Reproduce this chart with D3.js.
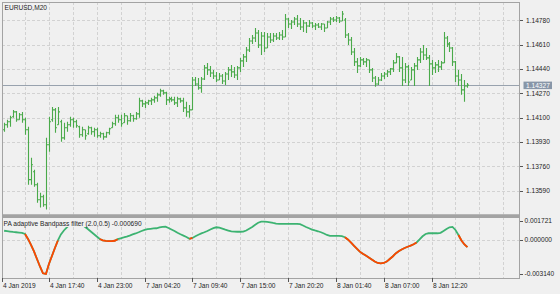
<!DOCTYPE html>
<html>
<head>
<meta charset="utf-8">
<script src="https://cdn.jsdelivr.net/npm/d3@7"></script>
<style>
  body { margin: 0; background: #f0f0f0; }
  svg { display: block; }
  text { font-family: "Liberation Sans", Arial, sans-serif; font-size: 6.6px; fill: #1e1e1e; }
</style>
</head>
<body>
<div id="chart"></div>
<script>
// EURUSD M20 bars, oldest first
const opens = [
  1.14015,1.14050,1.14071,1.14106,1.14140,1.14085,1.14120,1.14085,1.14015,1.13667,
  1.13722,1.13632,1.13527,1.13548,1.13492,1.13911,1.14085,1.14154,1.14050,1.14071,
  1.13959,1.14029,1.14050,1.14085,1.14071,1.14036,1.13980,1.14015,1.13987,1.14029,
  1.14001,1.14015,1.13973,1.13987,1.13966,1.13994,1.14029,1.14057,1.14099,1.14085,
  1.14064,1.14113,1.14078,1.14113,1.14092,1.14126,1.14217,1.14196,1.14203,1.14217,
  1.14224,1.14238,1.14259,1.14287,1.14273,1.14224,1.14231,1.14224,1.14203,1.14231,
  1.14217,1.14168,1.14140,1.14154,1.14363,1.14335,1.14308,1.14370,1.14447,1.14433,
  1.14412,1.14391,1.14363,1.14391,1.14356,1.14405,1.14433,1.14419,1.14398,1.14447,
  1.14496,1.14524,1.14572,1.14635,1.14656,1.14691,1.14607,1.14670,1.14586,1.14663,
  1.14642,1.14670,1.14656,1.14677,1.14663,1.14788,1.14753,1.14767,1.14788,1.14753,
  1.14733,1.14760,1.14740,1.14760,1.14740,1.14747,1.14733,1.14753,1.14726,1.14767,
  1.14788,1.14781,1.14795,1.14774,1.14781,1.14677,1.14642,1.14558,1.14489,1.14461,
  1.14503,1.14489,1.14503,1.14433,1.14377,1.14335,1.14363,1.14391,1.14405,1.14419,
  1.14440,1.14482,1.14524,1.14447,1.14363,1.14454,1.14363,1.14433,1.14461,1.14503,
  1.14558,1.14537,1.14517,1.14475,1.14447,1.14468,1.14454,1.14482,1.14656,1.14614,
  1.14586,1.14489,1.14391,1.14363,1.14294,1.14321
];
const highs = [
  1.14064,1.14085,1.14113,1.14154,1.14147,1.14133,1.14140,1.14099,1.14036,1.13820,
  1.13736,1.13646,1.13576,1.13562,1.13959,1.14106,1.14175,1.14168,1.14175,1.14085,
  1.14064,1.14071,1.14106,1.14099,1.14085,1.14043,1.14036,1.14015,1.14043,1.14036,
  1.14029,1.14029,1.14001,1.13994,1.14001,1.14029,1.14071,1.14120,1.14120,1.14120,
  1.14133,1.14113,1.14133,1.14120,1.14140,1.14238,1.14224,1.14217,1.14224,1.14238,
  1.14252,1.14273,1.14301,1.14294,1.14280,1.14245,1.14245,1.14245,1.14245,1.14238,
  1.14238,1.14210,1.14189,1.14384,1.14384,1.14377,1.14384,1.14468,1.14482,1.14461,
  1.14433,1.14419,1.14412,1.14405,1.14419,1.14454,1.14468,1.14454,1.14461,1.14517,
  1.14544,1.14593,1.14656,1.14677,1.14726,1.14712,1.14698,1.14698,1.14691,1.14691,
  1.14691,1.14691,1.14698,1.14712,1.14823,1.14795,1.14781,1.14802,1.14816,1.14795,
  1.14781,1.14767,1.14781,1.14767,1.14760,1.14760,1.14760,1.14753,1.14774,1.14802,
  1.14802,1.14809,1.14802,1.14844,1.14795,1.14691,1.14663,1.14586,1.14517,1.14524,
  1.14517,1.14517,1.14503,1.14447,1.14391,1.14384,1.14412,1.14419,1.14433,1.14447,
  1.14503,1.14551,1.14531,1.14524,1.14482,1.14468,1.14454,1.14482,1.14524,1.14586,
  1.14607,1.14586,1.14537,1.14503,1.14489,1.14503,1.14496,1.14698,1.14670,1.14628,
  1.14593,1.14496,1.14433,1.14405,1.14363,1.14342
];
const lows = [
  1.14001,1.14029,1.14036,1.14099,1.14071,1.14085,1.14064,1.13980,1.13632,1.13632,
  1.13618,1.13506,1.13472,1.13478,1.13458,1.13862,1.14071,1.13994,1.14050,1.13931,
  1.13945,1.14001,1.14036,1.14029,1.14029,1.13959,1.13966,1.13945,1.13980,1.13980,
  1.13966,1.13959,1.13959,1.13945,1.13959,1.13980,1.14029,1.14043,1.14064,1.14036,
  1.14064,1.14050,1.14071,1.14071,1.14085,1.14099,1.14175,1.14168,1.14189,1.14189,
  1.14203,1.14210,1.14245,1.14259,1.14189,1.14203,1.14210,1.14189,1.14175,1.14203,
  1.14140,1.14106,1.14099,1.14154,1.14321,1.14294,1.14273,1.14363,1.14398,1.14384,
  1.14370,1.14349,1.14363,1.14335,1.14328,1.14363,1.14384,1.14377,1.14363,1.14419,
  1.14454,1.14489,1.14558,1.14614,1.14628,1.14586,1.14537,1.14558,1.14586,1.14621,
  1.14628,1.14642,1.14642,1.14642,1.14663,1.14726,1.14719,1.14747,1.14733,1.14712,
  1.14698,1.14691,1.14733,1.14726,1.14712,1.14726,1.14712,1.14698,1.14726,1.14747,
  1.14767,1.14767,1.14760,1.14774,1.14656,1.14607,1.14537,1.14461,1.14412,1.14454,
  1.14468,1.14454,1.14412,1.14349,1.14315,1.14328,1.14356,1.14370,1.14384,1.14398,
  1.14419,1.14482,1.14419,1.14321,1.14342,1.14321,1.14363,1.14321,1.14433,1.14482,
  1.14503,1.14503,1.14321,1.14398,1.14412,1.14419,1.14433,1.14482,1.14593,1.14558,
  1.14461,1.14349,1.14321,1.14259,1.14210,1.14308
];
const closes = [
  1.14050,1.14071,1.14099,1.14140,1.14085,1.14120,1.14085,1.14015,1.13667,1.13771,
  1.13632,1.13527,1.13548,1.13492,1.13911,1.14071,1.14154,1.14029,1.14140,1.13959,
  1.14029,1.14050,1.14085,1.14071,1.14043,1.13980,1.14015,1.13973,1.14029,1.14001,
  1.14015,1.13973,1.13987,1.13966,1.13994,1.14022,1.14057,1.14099,1.14085,1.14057,
  1.14113,1.14078,1.14113,1.14092,1.14126,1.14217,1.14196,1.14203,1.14217,1.14224,
  1.14238,1.14259,1.14287,1.14273,1.14224,1.14231,1.14224,1.14203,1.14231,1.14217,
  1.14168,1.14140,1.14154,1.14363,1.14335,1.14308,1.14370,1.14447,1.14433,1.14412,
  1.14391,1.14363,1.14391,1.14356,1.14405,1.14433,1.14419,1.14398,1.14447,1.14496,
  1.14524,1.14572,1.14635,1.14656,1.14691,1.14607,1.14670,1.14586,1.14663,1.14642,
  1.14670,1.14656,1.14677,1.14663,1.14788,1.14753,1.14767,1.14788,1.14753,1.14733,
  1.14760,1.14740,1.14760,1.14740,1.14747,1.14733,1.14753,1.14726,1.14767,1.14788,
  1.14781,1.14795,1.14774,1.14823,1.14677,1.14642,1.14558,1.14489,1.14461,1.14503,
  1.14489,1.14503,1.14433,1.14377,1.14335,1.14363,1.14391,1.14405,1.14419,1.14440,
  1.14482,1.14524,1.14447,1.14363,1.14454,1.14349,1.14433,1.14461,1.14503,1.14558,
  1.14537,1.14517,1.14475,1.14447,1.14468,1.14454,1.14482,1.14656,1.14614,1.14586,
  1.14489,1.14391,1.14363,1.14294,1.14321,1.14327
];

// PA adaptive Bandpass filter (2.0,0.5), one value per bar
const filterValues = [
  0.000803,0.000766,0.000730,0.000693,0.000666,0.000638,0.000602,0.000511,0.000055,-0.000492,
  -0.001085,-0.001769,-0.002453,-0.003080,-0.003140,-0.002225,-0.001496,-0.000766,-0.000082,0.000465,
  0.000830,0.001104,0.001377,0.001605,0.001721,0.001651,0.001423,0.001167,0.000967,0.000739,
  0.000511,0.000283,0.000055,-0.000064,-0.000119,-0.000137,-0.000137,-0.000109,0.000036,0.000119,
  0.000192,0.000274,0.000365,0.000465,0.000556,0.000666,0.000784,0.000876,0.000948,0.000985,
  0.001012,0.001031,0.001104,0.001158,0.001176,0.001058,0.000921,0.000784,0.000620,0.000483,
  0.000365,0.000237,0.000073,0.000146,0.000301,0.000438,0.000565,0.000666,0.000784,0.000921,
  0.001040,0.001122,0.001094,0.001003,0.000903,0.000821,0.000739,0.000720,0.000711,0.000711,
  0.000720,0.000830,0.000994,0.001149,0.001350,0.001532,0.001632,0.001632,0.001614,0.001578,
  0.001514,0.001459,0.001423,0.001423,0.001423,0.001423,0.001423,0.001423,0.001423,0.001404,
  0.001286,0.001149,0.001031,0.000912,0.000830,0.000757,0.000666,0.000556,0.000420,0.000337,
  0.000328,0.000328,0.000328,0.000310,0.000210,0.000009,-0.000264,-0.000556,-0.000830,-0.001104,
  -0.001295,-0.001459,-0.001632,-0.001815,-0.002006,-0.002134,-0.002171,-0.002134,-0.002006,-0.001769,
  -0.001541,-0.001268,-0.001067,-0.000903,-0.000766,-0.000657,-0.000556,-0.000429,-0.000264,0.000009,
  0.000301,0.000511,0.000575,0.000575,0.000575,0.000575,0.000620,0.000784,0.000967,0.001122,
  0.001149,0.000876,0.000420,-0.000082,-0.000447,-0.000690
];
// bar ranges where the filter line is drawn in the "down" colour
const downRanges = [[7, 18], [32, 38], [62, 63], [114, 138], [152, 155]];

const priceTicks = [1.14780, 1.14610, 1.14440, 1.14270, 1.14100, 1.13930, 1.13760, 1.13590];
const lastPrice = 1.14327;
const filterTicks = [0.001721, 0.000000, -0.003140];
const timeLabels = ["4 Jan 17:40", "4 Jan 23:00", "7 Jan 04:20", "7 Jan 09:40", "7 Jan 15:00",
                    "7 Jan 20:20", "8 Jan 01:40", "8 Jan 07:00", "8 Jan 12:20"];
const firstDate = "4 Jan 2019";
const symbolTitle = "EURUSD,M20";
const filterTitle = "PA adaptive Bandpass filter (2.0,0.5) -0.000690";

const W = 560, H = 294;
const left = 2, right = 520;
const mainTop = 2, mainBottom = 214.5;
const subTop = 217, subBottom = 278;

const bg = "#f0f0f0", frame = "#a3a3a3", gridColor = "#d2d2d2";
const barColor = "#4aaa4a", upColor = "#3cb371", downColor = "#ff4500";

const svg = d3.select("#chart").append("svg")
    .attr("width", W)
    .attr("height", H);

svg.append("rect").attr("width", W).attr("height", H).attr("fill", bg);

// Scales
const x = d3.scaleLinear().domain([0, 167]).range([4.1, 503.3]);
const y = d3.scaleLinear().domain([1.13590, 1.14780]).range([190.7, 20.2]);
const yf = d3.scaleLinear().domain([-0.003140, 0.001721]).range([274, 220.7]);

const defs = svg.append("defs");
defs.append("clipPath").attr("id", "clip-main")
    .append("rect").attr("x", left).attr("y", mainTop)
    .attr("width", right - left).attr("height", mainBottom - mainTop);
defs.append("clipPath").attr("id", "clip-sub")
    .append("rect").attr("x", left).attr("y", subTop)
    .attr("width", right - left).attr("height", subBottom - subTop);

// Grid (every 8 bars)
const gridBars = d3.range(7, 168, 8);
const grid = svg.append("g")
    .attr("stroke", gridColor)
    .attr("stroke-dasharray", "3,2")
    .attr("stroke-width", 1);

grid.selectAll(".vgrid-main")
    .data(gridBars)
    .join("line")
    .attr("class", "vgrid-main")
    .attr("x1", d => Math.round(x(d)) + 0.5).attr("x2", d => Math.round(x(d)) + 0.5)
    .attr("y1", mainTop).attr("y2", mainBottom);

grid.selectAll(".vgrid-sub")
    .data(gridBars)
    .join("line")
    .attr("class", "vgrid-sub")
    .attr("x1", d => Math.round(x(d)) + 0.5).attr("x2", d => Math.round(x(d)) + 0.5)
    .attr("y1", subTop).attr("y2", subBottom);

grid.selectAll(".hgrid")
    .data(priceTicks)
    .join("line")
    .attr("class", "hgrid")
    .attr("x1", left).attr("x2", right)
    .attr("y1", d => Math.round(y(d)) + 0.5).attr("y2", d => Math.round(y(d)) + 0.5);

grid.append("line")
    .attr("x1", left).attr("x2", right)
    .attr("y1", Math.round(yf(0)) + 0.5).attr("y2", Math.round(yf(0)) + 0.5);

// Current price line
svg.append("line")
    .attr("x1", left).attr("x2", right)
    .attr("y1", Math.round(y(lastPrice)) + 0.5).attr("y2", Math.round(y(lastPrice)) + 0.5)
    .attr("stroke", "#98a2ae")
    .attr("stroke-width", 1);

// OHLC bars
const bars = opens.map((o, i) => ({ i, o, h: highs[i], l: lows[i], c: closes[i] }));

svg.append("g")
    .attr("clip-path", "url(#clip-main)")
    .selectAll("path")
    .data(bars)
    .join("path")
    .attr("d", d => {
        const cx = Math.round(x(d.i)) + 0.5;
        return `M${cx},${y(d.h)}V${y(d.l)}` +
               `M${cx - 1.5},${y(d.o)}H${cx}` +
               `M${cx},${y(d.c)}H${cx + 1.5}`;
    })
    .attr("fill", "none")
    .attr("stroke", barColor)
    .attr("stroke-width", 1.1);

// Filter line
const line = d3.line()
    .x(d => x(d.i))
    .y(d => yf(d.v));

const filterData = filterValues.map((v, i) => ({ i, v }));
const subG = svg.append("g").attr("clip-path", "url(#clip-sub)");

subG.append("path")
    .datum(filterData)
    .attr("d", line)
    .attr("fill", "none")
    .attr("stroke", upColor)
    .attr("stroke-width", 1.8);

subG.selectAll(".down-seg")
    .data(downRanges)
    .join("path")
    .attr("class", "down-seg")
    .attr("d", r => line(filterData.slice(r[0], r[1] + 1)))
    .attr("fill", "none")
    .attr("stroke", downColor)
    .attr("stroke-width", 1.8);

// Indicator caption (drawn on an opaque box, like the terminal does)
const capG = svg.append("g");
const cap = capG.append("text")
    .attr("x", 3.5)
    .attr("y", 225.5)
    .text(filterTitle);
const cb = cap.node().getBBox();
capG.insert("rect", "text")
    .attr("x", left + 1).attr("y", subTop + 0.5)
    .attr("width", cb.x + cb.width - left)
    .attr("height", 9.5)
    .attr("fill", bg);

// Frames
svg.append("rect")
    .attr("x", left + 0.5).attr("y", mainTop + 0.5)
    .attr("width", right - left - 1).attr("height", mainBottom - mainTop)
    .attr("fill", "none").attr("stroke", frame);
svg.append("rect")
    .attr("x", left).attr("y", mainBottom)
    .attr("width", right - left).attr("height", subTop - mainBottom)
    .attr("fill", frame);
svg.append("rect")
    .attr("x", left + 0.5).attr("y", subTop + 0.5)
    .attr("width", right - left - 1).attr("height", subBottom - subTop)
    .attr("fill", "none").attr("stroke", frame);

// Symbol title
svg.append("text")
    .attr("x", 4.5)
    .attr("y", 9.5)
    .text(symbolTitle);

// Price axis
const pAxis = svg.append("g");
pAxis.selectAll("line")
    .data(priceTicks)
    .join("line")
    .attr("x1", right).attr("x2", right + 3)
    .attr("y1", d => Math.round(y(d)) + 0.5).attr("y2", d => Math.round(y(d)) + 0.5)
    .attr("stroke", "#555");
pAxis.selectAll("text")
    .data(priceTicks)
    .join("text")
    .attr("x", 526)
    .attr("y", d => y(d) + 2.4)
    .text(d => d.toFixed(5));

// Last price tag
svg.append("rect")
    .attr("x", 523.5).attr("y", y(lastPrice) - 3.5)
    .attr("width", 28.5).attr("height", 7.5)
    .attr("fill", "#8796a8");
svg.append("text")
    .attr("x", 526)
    .attr("y", y(lastPrice) + 2.4)
    .style("fill", "#ffffff")
    .text(lastPrice.toFixed(5));

// Filter axis
const fAxis = svg.append("g");
fAxis.selectAll("line")
    .data(filterTicks)
    .join("line")
    .attr("x1", right).attr("x2", right + 3)
    .attr("y1", d => Math.round(yf(d)) + 0.5).attr("y2", d => Math.round(yf(d)) + 0.5)
    .attr("stroke", "#555");
fAxis.selectAll("text")
    .data(filterTicks)
    .join("text")
    .attr("x", 524.5)
    .attr("y", d => yf(d) + 2.4)
    .text(d => d.toFixed(6));

// Time axis: a label every 16 bars, first one at bar 15
const timeTicks = [{ px: left, label: firstDate }]
    .concat(timeLabels.map((t, k) => ({ px: Math.round(x(15 + 16 * k)), label: t })));
const tAxis = svg.append("g");
tAxis.selectAll("line")
    .data(timeTicks)
    .join("line")
    .attr("x1", d => d.px + 0.5).attr("x2", d => d.px + 0.5)
    .attr("y1", subBottom).attr("y2", subBottom + 4)
    .attr("stroke", "#555");
tAxis.selectAll("text")
    .data(timeTicks)
    .join("text")
    .attr("x", d => d.px + 1)
    .attr("y", 288)
    .text(d => d.label);
</script>
</body>
</html>
